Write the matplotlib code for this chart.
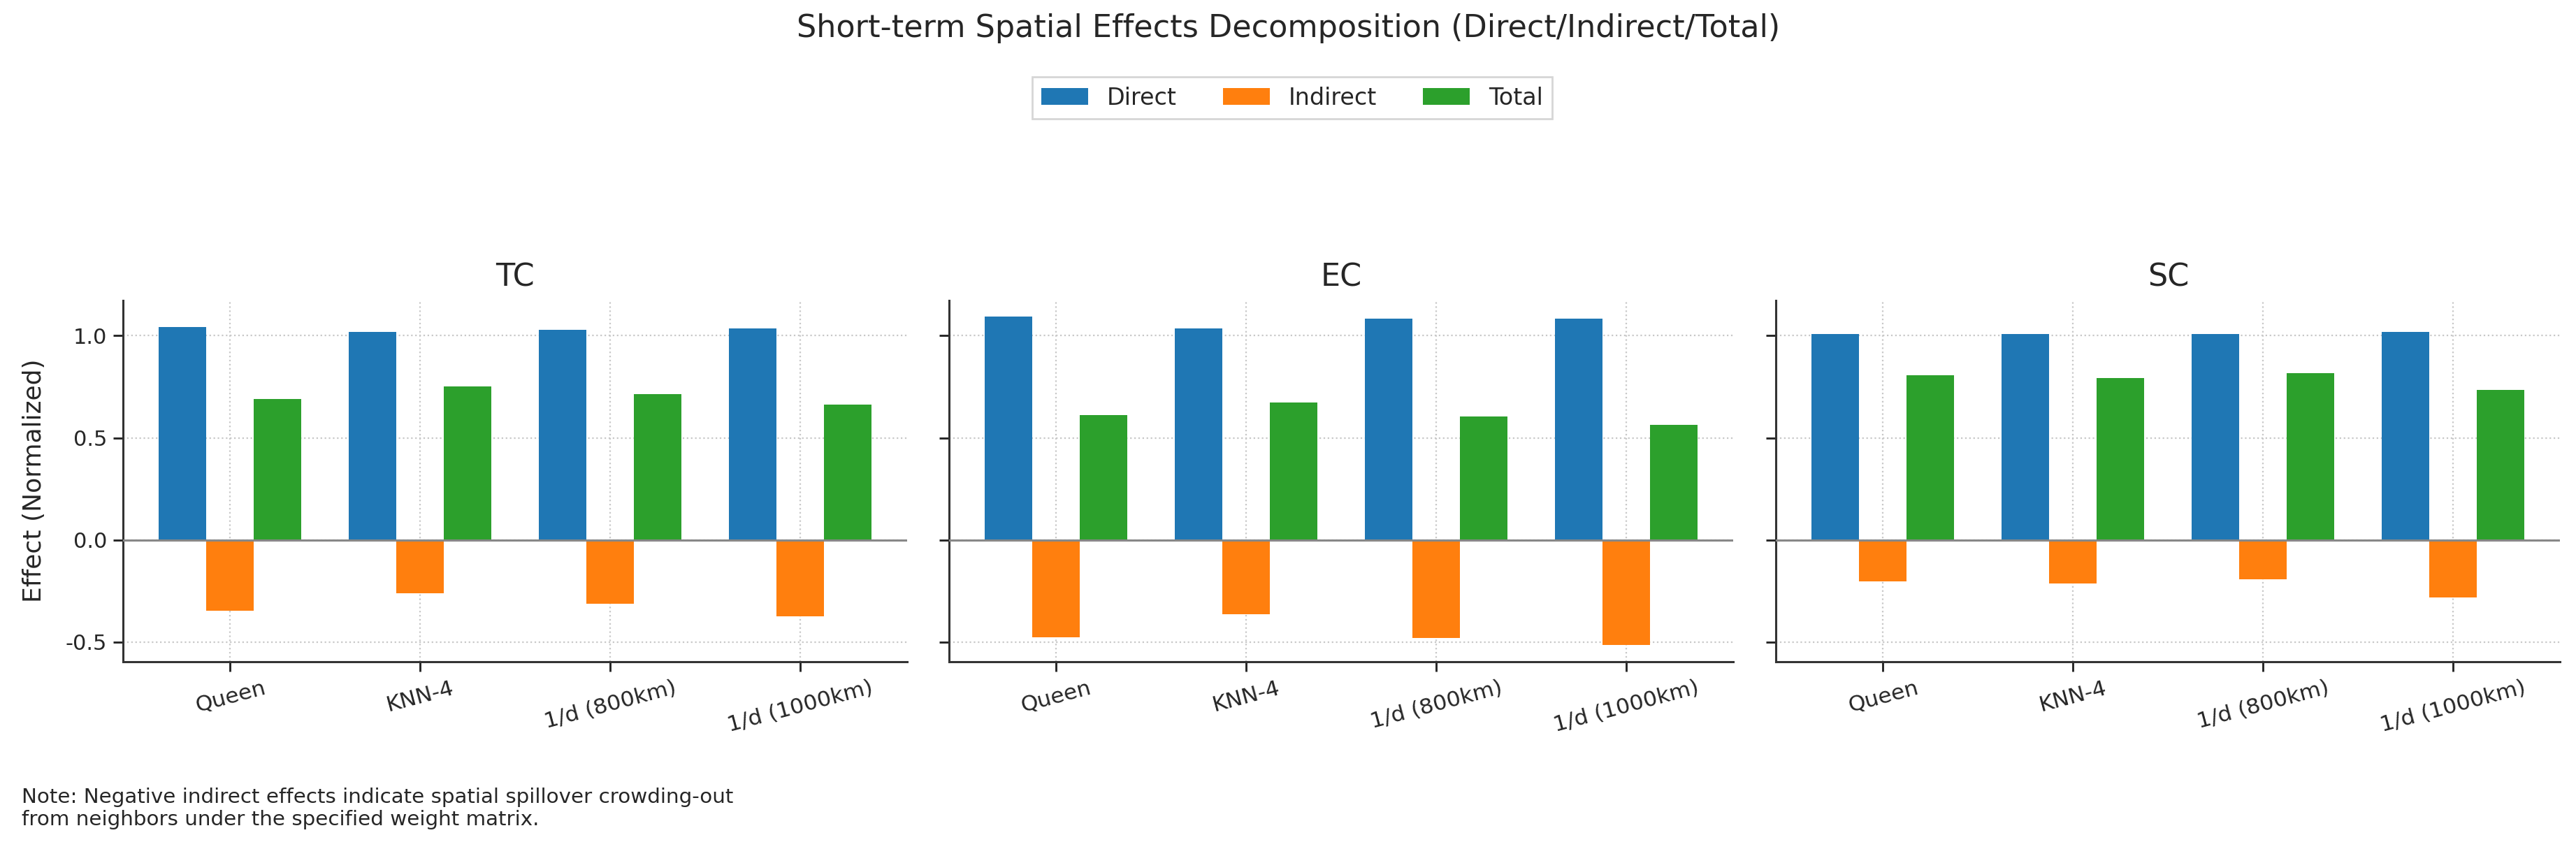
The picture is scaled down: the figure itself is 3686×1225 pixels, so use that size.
import matplotlib
matplotlib.use("Agg")
import matplotlib.pyplot as plt
import numpy as np

plt.rcParams['font.family'] = ['DejaVu Sans']
plt.rcParams['axes.unicode_minus'] = False
plt.rcParams['text.color'] = '#262626'
plt.rcParams['axes.labelcolor'] = '#262626'
plt.rcParams['xtick.color'] = '#262626'
plt.rcParams['ytick.color'] = '#262626'

categories = ["Queen", "KNN-4", "1/d (800km)", "1/d (1000km)"]
panels = ["TC", "EC", "SC"]
series = ["Direct", "Indirect", "Total"]

direct_tc = [1.044, 1.017, 1.028, 1.034]
indirect_tc = [-0.347, -0.261, -0.312, -0.373]
total_tc = [0.691, 0.752, 0.713, 0.661]

direct_ec = [1.092, 1.037, 1.083, 1.083]
indirect_ec = [-0.477, -0.364, -0.480, -0.514]
total_ec = [0.613, 0.674, 0.606, 0.564]

direct_sc = [1.009, 1.009, 1.009, 1.017]
indirect_sc = [-0.202, -0.213, -0.193, -0.281]
total_sc = [0.807, 0.794, 0.818, 0.735]

data = {
    "TC": [direct_tc, indirect_tc, total_tc],
    "EC": [direct_ec, indirect_ec, total_ec],
    "SC": [direct_sc, indirect_sc, total_sc],
}
colors = ["#1f77b4", "#ff7f0e", "#2ca02c"]

W, H = 3687, 1225
fig = plt.figure(figsize=(W / 200, H / 200), dpi=200)

lefts = [176.5, 1358, 2541.5]
ax_w = 1122
bottom_px, top_px = 946.5, 430
axes = []
for i, name in enumerate(panels):
    l = lefts[i] / W
    b = 1 - bottom_px / H
    h = (bottom_px - top_px) / H
    ax = fig.add_axes([l, b, ax_w / W, h], sharey=axes[0] if axes else None)
    axes.append(ax)

width = 0.25
x = np.arange(len(categories))
handles = []
for i, (ax, name) in enumerate(zip(axes, panels)):
    ax.set_axisbelow(True)
    ax.grid(True, linestyle=':', color='#c8c8c8', linewidth=0.8)
    for j, s in enumerate(series):
        bars = ax.bar(x + (j - 1) * width, data[name][j], width, color=colors[j], label=s, zorder=2)
        if i == 0:
            handles.append(bars)
    ax.axhline(0, color='#888888', linewidth=1.1, zorder=3)
    ax.set_xticks(x)
    ax.set_xticklabels(categories, rotation=15, ha='center', fontsize=11.3)
    ax.tick_params(axis='y', labelsize=11)
    ax.tick_params(axis='both', length=4.9, width=1.05, color='#262626')
    for sp in ['top', 'right']:
        ax.spines[sp].set_visible(False)
    for sp in ['left', 'bottom']:
        ax.spines[sp].set_linewidth(1.1)
        ax.spines[sp].set_color('#333333')
    ax.set_title(name, fontsize=16, pad=7.5)
    if i > 0:
        plt.setp(ax.get_yticklabels(), visible=False)

axes[0].set_yticks([-0.5, 0.0, 0.5, 1.0])
axes[0].set_ylabel("Effect (Normalized)", fontsize=13, labelpad=10)

fig.text(0.5, 1 - 53 / H, "Short-term Spatial Effects Decomposition (Direct/Indirect/Total)",
         ha='center', va='baseline', fontsize=16)

leg = fig.legend(handles, series, loc='center', bbox_to_anchor=(0.5015, 1 - 140 / H),
                 ncol=3, fontsize=12, frameon=True, fancybox=False, columnspacing=2.0,
                 edgecolor='#cccccc')
leg.get_frame().set_linewidth(1.0)

fig.text(31 / W, 1 - 1127 / H,
         "Note: Negative indirect effects indicate spatial spillover crowding-out\nfrom neighbors under the specified weight matrix.",
         ha='left', va='top', fontsize=10.6)

fig.savefig("out.png", dpi=200)
